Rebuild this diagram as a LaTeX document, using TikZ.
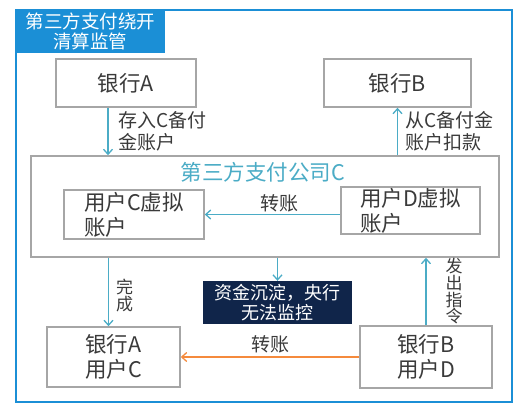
\documentclass[tikz,border=0pt]{standalone}
\usepackage{fontspec}
\setmainfont{Noto Sans CJK SC}
\usetikzlibrary{arrows.meta}
\definecolor{frameblue}{HTML}{1B8FD6}
\definecolor{flowblue}{HTML}{4BACC6}
\definecolor{flowred}{HTML}{F58A3C}
\definecolor{boxgray}{HTML}{A6A6A6}
\definecolor{navy}{HTML}{10254A}
\definecolor{txt}{HTML}{3A3A3A}

\begin{document}
\begin{tikzpicture} [x=1pt,y=-1pt,
  box/.style= {draw=boxgray,line width=1.6pt,fill=white,inner sep=0,align=center,text=txt,font=\fontsize{21.5}{25}\selectfont},
  flow/.style= {draw=flowblue,line width=1.3pt,-{Straight Barb[length=5pt,width=9pt]}},
  lbl/.style= {text=txt,inner sep=0,align=left,font=\fontsize{19}{21.5}\selectfont},
  vlbl/.style= {lbl,align=center,font=\fontsize{17}{15.5}\selectfont}]
\useasboundingbox (0,0) rectangle (520,409);
\draw[frameblue,line width=1.2pt] (16,10) rectangle (512,402);
\node[fill=frameblue,text=white,minimum width=149pt,minimum height=43pt,inner sep=0,align=center,font=\fontsize{18.5}{20}\selectfont] (title) at (90.5,31.5) {第三方支付绕开\\清算监管};

\node[box,minimum width=140pt,minimum height=48pt] (bankA) at (126,83) {银行A};
\node[box,minimum width=147pt,minimum height=48pt] (bankB) at (397.5,83) {银行B};
\node[box,minimum width=468pt,minimum height=101pt] (payC) at (265,206.5) {};
\node[text=flowblue,inner sep=0,font=\fontsize{21.5}{22}\selectfont] (payCname) at (263,172) {第三方支付公司C};
\node[box,align=left,minimum width=140pt,minimum height=49pt] (userC) at (134,214.5) {用户C虚拟\\账户};
\node[box,align=left,minimum width=139pt,minimum height=47pt] (userD) at (410.5,210.5) {用户D虚拟\\账户};
\node[fill=navy,text=white,minimum width=149pt,minimum height=43pt,inner sep=0,align=center,font=\fontsize{18}{20}\selectfont] (pool) at (277.5,302.5) {资金沉淀，央行\\无法监控};
\node[box,minimum width=133pt,minimum height=60pt] (bankAC) at (113.5,357) {银行A\\用户C};
\node[box,minimum width=132pt,minimum height=62pt] (bankBD) at (426,357) {银行B\\用户D};

\draw[flow] ([xshift=-18pt]bankA.south) -- ([xshift=-18pt]bankA.south |- payC.north)
  node[lbl,pos=0.5,anchor=west,xshift=10pt] (depo) {存入C备付\\金账户};
\draw[flow] (bankB.south |- payC.north) -- (bankB.south)
  node[lbl,pos=0.5,anchor=west,xshift=7pt] (debit) {从C备付金\\账户扣款};
\draw[flow] (userD.west |- userC.east) -- (userC.east)
  node[lbl,pos=0.45,above=2pt] (moveCD) {转账};
\draw[flow] (pool.north |- payC.south) -- (pool.north);
\draw[flow] ([xshift=-5pt]bankAC.north |- payC.south) -- ([xshift=-5pt]bankAC.north)
  node[vlbl,pos=0.55,anchor=west,xshift=7pt] (done) {完\\成};
\draw[flow] (bankBD.north) -- (bankBD.north |- payC.south)
  node[vlbl,pos=0.5,anchor=west,xshift=19pt] (order) {发\\出\\指\\令};
\draw[flow,draw=flowred] (bankBD.west) -- (bankAC.east)
  node[lbl,pos=0.5,above=3pt] (moveBA) {转账};
\end{tikzpicture}
\end{document}
